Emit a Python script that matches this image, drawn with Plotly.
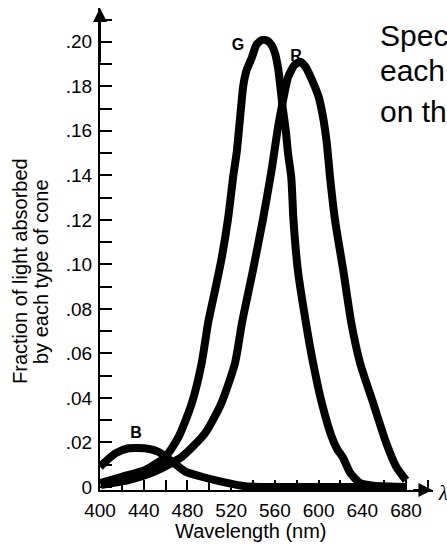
import plotly.graph_objects as go

# ---- data ----
g_nm = [400, 420, 441, 460, 472, 484, 493, 499, 504, 511, 517, 522, 525, 528, 531, 534,
        539, 543, 548, 553, 557, 560, 563, 565, 567, 570, 572, 575, 577, 581, 589, 595,
        603, 612, 617, 622, 629, 638, 650, 665, 680]
g_frac = [0.0017, 0.0046, 0.0076, 0.0136, 0.0226, 0.0376, 0.0556, 0.074, 0.0855, 0.102,
          0.12, 0.14, 0.150, 0.165, 0.18, 0.187, 0.193, 0.1986, 0.2008, 0.2005, 0.1985,
          0.195, 0.188, 0.18, 0.171, 0.160, 0.150, 0.139, 0.12, 0.0975, 0.072, 0.0556,
          0.0376, 0.0225, 0.017, 0.0135, 0.0063, 0.0018, 0.0006, 0.0002, 0.0]

r_nm = [401, 426, 450, 475, 496, 511, 523.5, 530, 540, 549, 557, 563, 568, 572, 578, 583,
        588, 594, 600, 604, 607.5, 610.5, 615, 622.5, 630, 638, 650, 662, 671, 680]
r_frac = [0.0009, 0.0031, 0.0069, 0.0136, 0.0241, 0.0376, 0.0556, 0.074, 0.0975, 0.12,
          0.1424, 0.162, 0.175, 0.184, 0.1896, 0.191, 0.1888, 0.1828, 0.1753, 0.1663,
          0.1544, 0.139, 0.12, 0.0975, 0.0735, 0.0556, 0.0376, 0.0196, 0.0091, 0.003]

b_nm = [400, 414, 426, 441, 453, 466, 478, 493, 511, 533, 560, 600, 640, 680]
b_frac = [0.0091, 0.0151, 0.0174, 0.0174, 0.0159, 0.0114, 0.0069, 0.0046, 0.0024,
          0.0003, 0.0, 0.0, 0.0, 0.0]

curve_labels = ["G", "R", "B"]
label_nm = [526.3, 579.3, 432.9]
label_frac = [0.198, 0.193, 0.0238]

y_tickvals = [0, 0.02, 0.04, 0.06, 0.08, 0.10, 0.12, 0.14, 0.16, 0.18, 0.20]
y_ticktext = ["0", ".02", ".04", ".06", ".08", ".10", ".12", ".14", ".16", ".18", ".20"]
x_tickvals = [400, 440, 480, 520, 560, 600, 640, 680]
x_ticktext = ["400", "440", "480", "520", "560", "600", "640", "680"]

side_text = ["Spec", "each", "on th"]

# ---- layout geometry (window pixels) ----
W, H = 447, 550
PLOT_L, PLOT_R, PLOT_T, PLOT_B = 100, 433, 8, 490
ML, MR, MT, MB = PLOT_L, W - PLOT_R, PLOT_T, H - PLOT_B
PW, PH = PLOT_R - PLOT_L, PLOT_B - PLOT_T
XPX = 1.093           # pixels per nm
YPX = 2226.0          # pixels per unit fraction
XMIN = 400
XMAX = XMIN + PW / XPX
YMIN = -(PLOT_B - 487) / YPX
YMAX = YMIN + PH / YPX
FONT = "Liberation Sans, Arial, Helvetica, sans-serif"


def px_x(p):
    return (p - PLOT_L) / PW


def px_y(p):
    return (PLOT_B - p) / PH


fig = go.Figure()

# curve letters first so the curves sit on top of them
fig.add_trace(go.Scatter(x=label_nm, y=label_frac, mode="text", text=[f"<b>{t}</b>" for t in curve_labels],
                         textfont=dict(family=FONT, size=16, color="black"),
                         hoverinfo="skip", showlegend=False, cliponaxis=False))

for xs, ys in [(b_nm, b_frac), (r_nm, r_frac), (g_nm, g_frac)]:
    fig.add_trace(go.Scatter(x=xs, y=ys, mode="lines",
                             line=dict(color="black", width=8, shape="spline", smoothing=0.6),
                             hoverinfo="skip", showlegend=False))

annotations = []
# axis arrowheads
annotations.append(dict(x=400, y=YMAX, ax=400, ay=0.19, xref="x", yref="y", axref="x", ayref="y",
                        text="", showarrow=True, arrowhead=2, arrowsize=1.4, arrowwidth=2,
                        arrowcolor="black"))
annotations.append(dict(x=XMAX - 0.5, y=YMIN, ax=685, ay=YMIN, xref="x", yref="y", axref="x", ayref="y",
                        text="", showarrow=True, arrowhead=2, arrowsize=1.4, arrowwidth=2,
                        arrowcolor="black"))
annotations.append(dict(x=px_x(437), y=px_y(493), xref="paper", yref="paper", text="<i>λ</i>",
                        showarrow=False, xanchor="left", yanchor="middle", borderpad=0,
                        font=dict(family="Liberation Serif, DejaVu Serif, serif", size=20,
                                  color="black")))
# axis titles
annotations.append(dict(x=px_x(20), y=px_y(271), xref="paper", yref="paper",
                        text="Fraction of light absorbed", textangle=-90, showarrow=False,
                        xanchor="center", yanchor="middle",
                        font=dict(family=FONT, size=20, color="black")))
annotations.append(dict(x=px_x(41), y=px_y(272), xref="paper", yref="paper",
                        text="by each type of cone", textangle=-90, showarrow=False,
                        xanchor="center", yanchor="middle",
                        font=dict(family=FONT, size=20, color="black")))
annotations.append(dict(x=px_x(251), y=px_y(531), xref="paper", yref="paper",
                        text="Wavelength (nm)", showarrow=False,
                        xanchor="center", yanchor="middle",
                        font=dict(family=FONT, size=20, color="black")))
# cut-off slide text at top right
for t, cy in zip(side_text, [35, 70, 111]):
    annotations.append(dict(x=px_x(378), y=px_y(cy), xref="paper", yref="paper", text=t,
                            showarrow=False, xanchor="left", yanchor="middle",
                            font=dict(family=FONT, size=30, color="black")))

fig.update_layout(
    width=W, height=H,
    margin=dict(l=ML, r=MR, t=MT, b=MB, pad=0),
    paper_bgcolor="white", plot_bgcolor="white",
    showlegend=False,
    annotations=annotations,
    xaxis=dict(range=[XMIN, XMAX], showgrid=False, zeroline=False,
               showline=True, linecolor="black", linewidth=2,
               tickvals=x_tickvals, ticktext=x_ticktext,
               ticks="inside", ticklen=10, tickwidth=2, tickcolor="black",
               minor=dict(dtick=20, tick0=400, ticks="inside", ticklen=10, tickwidth=2,
                          tickcolor="black"),
               tickfont=dict(family=FONT, size=19, color="black"), ticklabelstandoff=2),
    yaxis=dict(range=[YMIN, YMAX], showgrid=False, zeroline=False,
               showline=True, linecolor="black", linewidth=2,
               tickvals=y_tickvals, ticktext=y_ticktext,
               ticks="inside", ticklen=12, tickwidth=2, tickcolor="black",
               minor=dict(dtick=0.01, tick0=0, ticks="inside", ticklen=12, tickwidth=2,
                          tickcolor="black"),
               tickfont=dict(family=FONT, size=19, color="black"), ticklabelstandoff=2),
)

# remove the browser's default page margin so the figure fills the window exactly
fig.write_html("out.html", config={"displayModeBar": False},
               post_script="document.body.style.margin='0';document.body.style.overflow='hidden';")
